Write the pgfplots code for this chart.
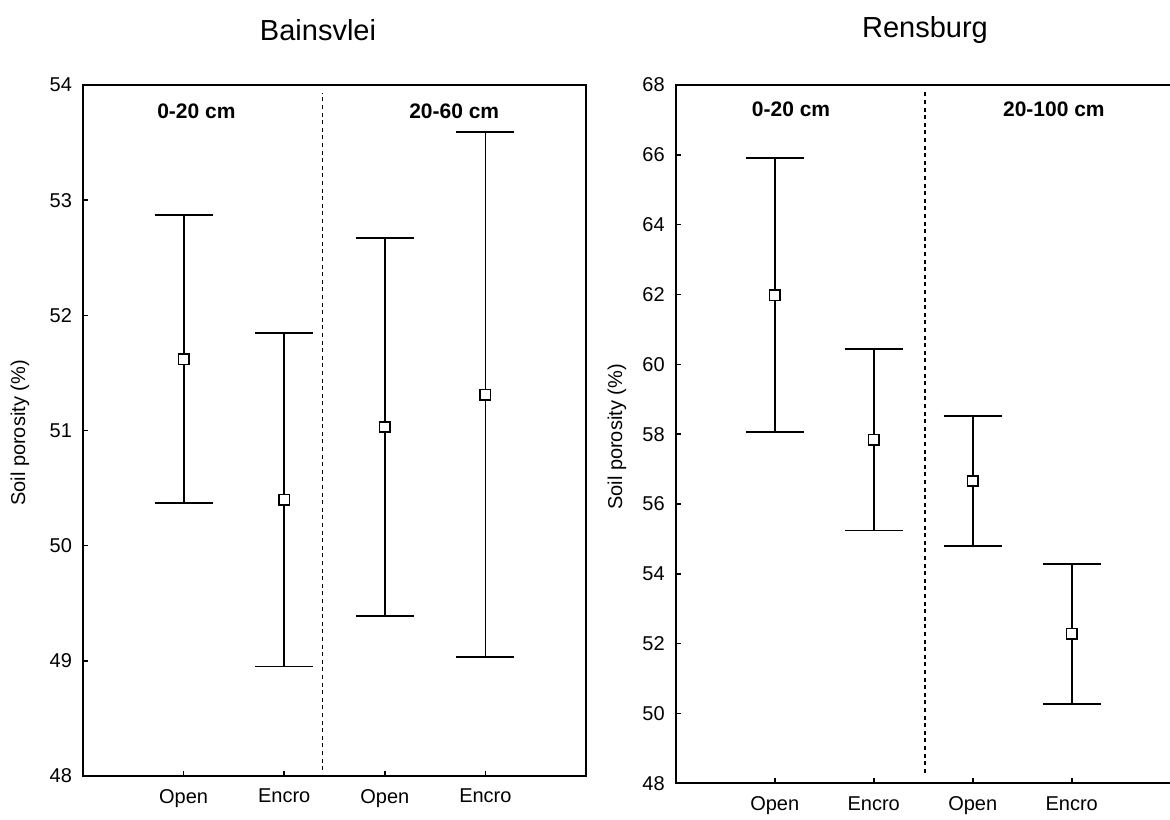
\documentclass[border=0pt]{standalone}
\usepackage{fontspec}
\setmainfont{Liberation Sans}
\usepackage{pgfplots}
\pgfplotsset{compat=1.18}
\usepackage{pgfplotstable}

\pgfplotstableread{
x y e
1 51.62 1.25
2 50.40 1.45
3 51.03 1.64
4 51.31 2.28
}\bainsvlei
\pgfplotstableread{
x y e
1 61.98 3.92
2 57.84 2.60
3 56.66 1.86
4 52.28 2.00
}\rensburg

\pgfplotsset{
  myax/.style={
    scale only axis, anchor=south west,
    xmin=0, xmax=5, xtick={1,2,3,4}, xticklabels={Open,Encro,Open,Encro},
    xtick pos=bottom, ytick pos=left, tick align=inside, major tick length=2.5pt,
    axis line style={line width=0.9pt},
    every tick/.style={black, line width=0.8pt},
    /pgf/number format/assume math mode=true,
    tick label style={font=\fontsize{10}{12}\selectfont},
    xticklabel style={yshift=-3pt},
    yticklabel style={xshift=-2pt},
    clip=false,
  },
  myplot/.style={black, line width=0.9pt, only marks, mark=square*, mark size=2.6pt,
    mark options={fill=white, line width=0.8pt},
    error bars/.cd, y dir=both, y explicit,
    error bar style={line width=0.9pt},
    error mark=-,
    error mark options={rotate=90, mark size=14.5pt, line width=0.9pt}},
  sep/.style={black, line width=0.9pt, dash pattern=on 2pt off 1.8pt},
}

\begin{document}
\begin{tikzpicture}
\useasboundingbox (0,0) rectangle (585pt,409.5pt);

\begin{axis}[myax, at={(41.5pt,21.5pt)}, width=251.5pt, height=345.5pt,
  ymin=48, ymax=54, ytick={48,49,50,51,52,53,54}]
  \addplot[sep] coordinates {(2.38,48.05) (2.38,53.93)};
  \addplot[myplot] table[x=x, y=y, y error=e] {\bainsvlei};
  \node[font=\bfseries\fontsize{10.5}{12}\selectfont] at (axis cs:1.127,53.77) {0-20 cm};
  \node[font=\bfseries\fontsize{10.5}{12}\selectfont] at (axis cs:3.69,53.77) {20-60 cm};
\end{axis}

\begin{axis}[myax, at={(337.85pt,17.85pt)}, width=247.5pt, height=349.15pt,
  ymin=48, ymax=68, ytick={48,50,52,54,56,58,60,62,64,66,68}]
  \addplot[sep] coordinates {(2.52,48.3) (2.52,67.85)};
  \addplot[myplot] table[x=x, y=y, y error=e] {\rensburg};
  \node[font=\bfseries\fontsize{10.5}{12}\selectfont] at (axis cs:1.165,67.31) {0-20 cm};
  \node[font=\bfseries\fontsize{10.5}{12}\selectfont] at (axis cs:3.82,67.31) {20-100 cm};
\end{axis}

\node[font=\fontsize{14.5}{16}\selectfont] at (159pt,394.5pt) {Bainsvlei};
\node[font=\fontsize{14.5}{16}\selectfont] at (462.5pt,394.5pt) {Rensburg};
\node[rotate=90, font=\fontsize{10}{12}\selectfont] at (10pt,193pt) {Soil porosity (\%)};
\node[rotate=90, font=\fontsize{10}{12}\selectfont] at (308.5pt,191pt) {Soil porosity (\%)};
\end{tikzpicture}
\end{document}
